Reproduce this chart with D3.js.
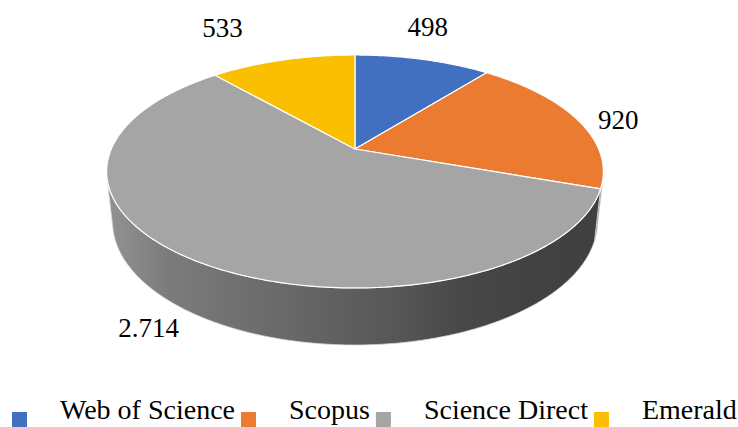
<!DOCTYPE html>
<html>
<head>
<meta charset="utf-8">
<script src="https://cdn.jsdelivr.net/npm/d3@7"></script>
<style>
  body { margin: 0; background: #fff; }
</style>
</head>
<body>
<svg id="chart" width="738" height="427"></svg>
<script>
// data
var sources = ['Web of Science', 'Scopus', 'Science Direct', 'Emerald']
var counts = [498, 920, 2714, 533]
var countLabels = ['498', '920', '2.714', '533']
var sliceColors = ['#4170C0', '#EB7B30', '#A5A5A5', '#FABF00']

// layout
var cx = 355, cy = 149
var tilt = 27.4 * Math.PI / 180, dist = 4.6, focal = 1121, depth = 0.234
var serif = "'Liberation Serif'"
// label nudges from the slice's rim midpoint (px); third one hangs off the bottom rim
var labelNudge = [[5, -33], [41, 0], [-48, 13], [-60, -32]]

var svg = d3.select('#chart')
var color = d3.scaleOrdinal().domain(sources).range(sliceColors)

// world: x right, y up, z toward viewer, radius 1
function project(x, y, z){
  var zc = z * Math.cos(tilt) + y * Math.sin(tilt)
  var yc = y * Math.cos(tilt) - z * Math.sin(tilt)
  var w = dist - zc
  return [cx + focal * x / w, cy - focal * yc / w]
}
function rim(a, y){ return project(Math.sin(a), y, -Math.cos(a)) }
function arcPts(a0, a1, y){
  var n = Math.max(2, Math.ceil(Math.abs(a1 - a0) / 0.01))
  return d3.range(n + 1).map(i => rim(a0 + (a1 - a0) * i / n, y))
}

var pie = d3.pie().sort(null).value(d => d.value)
var arcs = pie(sources.map((s, i) => ({key: s, value: counts[i], label: countLabels[i]})))

// side shading gradient per slice
var defs = svg.append('defs')
var shadeStops = [[0, .89], [.123, .75], [.39, .62], [.59, .52], [.726, .43], [.86, .40], [1, .39]]
arcs.forEach((d, i) => {
  var c = d3.rgb(color(d.data.key))
  var g = defs.append('linearGradient').attr('id', 'side' + i)
    .attr('gradientUnits', 'userSpaceOnUse')
    .attr('x1', cx - 249).attr('x2', cx + 248).attr('y1', 0).attr('y2', 0)
  shadeStops.forEach(([o, k]) => {
    g.append('stop').attr('offset', o)
      .attr('stop-color', d3.rgb(c.r * k, c.g * k, c.b * k).formatHex())
  })
})

// visible part of the wall: z > 1/(dist*cos(tilt))
var zs = 1 / (dist * Math.cos(tilt))
var visLo = Math.acos(-zs), visHi = 2 * Math.PI - visLo
var line = d3.line()

arcs.forEach((d, i) => {
  var lo = Math.max(d.startAngle, visLo), hi = Math.min(d.endAngle, visHi)
  if (hi <= lo) return
  var pts = arcPts(lo, hi, 0).concat(arcPts(hi, lo, -depth))
  svg.append('path')
    .attr('d', line(pts) + 'Z')
    .attr('fill', 'url(#side' + i + ')')
    .attr('stroke', '#dcdcdc').attr('stroke-width', 0.8)
})

// top face
svg.selectAll('path.top').data(arcs).enter().append('path')
  .attr('class', 'top')
  .attr('d', d => line([project(0, 0, 0)].concat(arcPts(d.startAngle, d.endAngle, 0))) + 'Z')
  .attr('fill', d => color(d.data.key))
  .attr('stroke', '#fff').attr('stroke-width', 1.2).attr('stroke-linejoin', 'round')

// data labels
svg.selectAll('text.lbl').data(arcs).enter().append('text')
  .attr('class', 'lbl')
  .attr('font-family', serif)
  .attr('text-anchor', 'middle')
  .attr('font-size', 27)
  .attr('dy', '0.34em')
  .each(function(d, i){
    var mid = (d.startAngle + d.endAngle) / 2
    var p = rim(mid, i == 2 ? -depth : 0)
    d3.select(this).attr('x', p[0] + labelNudge[i][0]).attr('y', p[1] + labelNudge[i][1])
  })
  .text(d => d.data.label)

// legend
var lg = svg.append('g')
var lx = 12
sources.forEach(s => {
  lg.append('rect').attr('x', lx).attr('y', 412).attr('width', 15).attr('height', 15)
    .attr('fill', color(s))
  var t = lg.append('text').attr('x', lx + 48).attr('y', 419)
    .attr('font-family', serif).attr('font-size', 28).text(s)
  lx = lx + 48 + t.node().getComputedTextLength() + 6
})
</script>
</body>
</html>
